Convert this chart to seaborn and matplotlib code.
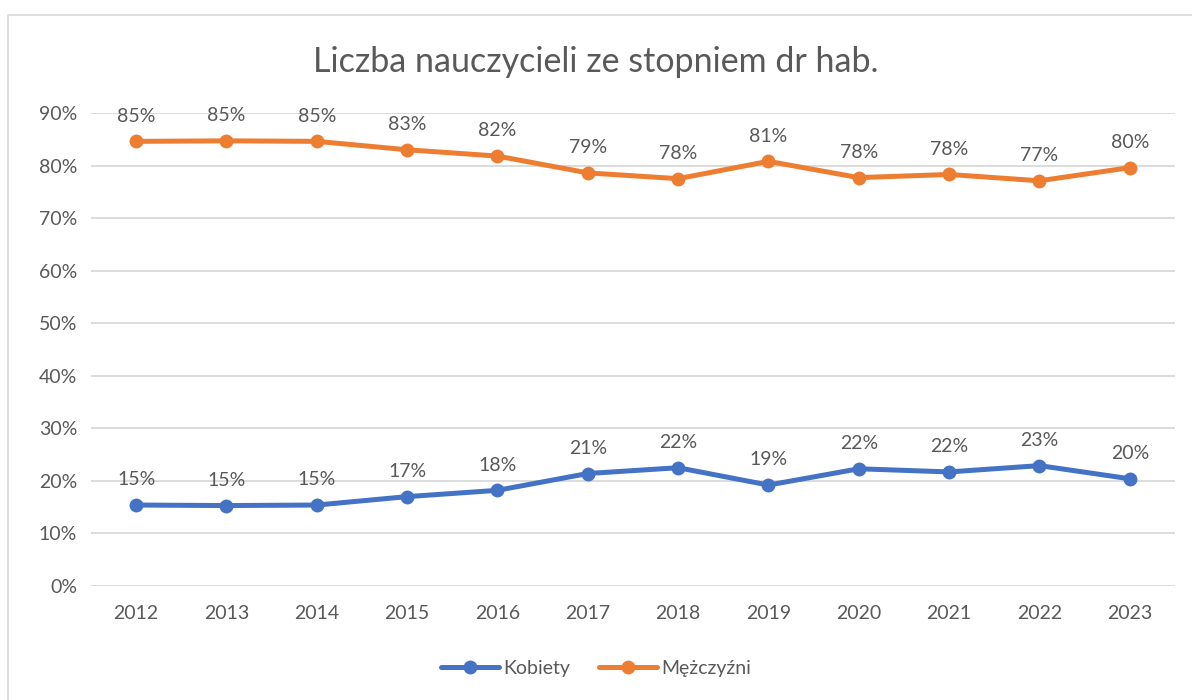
import matplotlib.pyplot as plt
import matplotlib.patches as mpatches
import seaborn as sns
import pandas as pd
from matplotlib.ticker import PercentFormatter

# dane
years = [2012, 2013, 2014, 2015, 2016, 2017, 2018, 2019, 2020, 2021, 2022, 2023]
kobiety = [15.4, 15.3, 15.4, 17.0, 18.2, 21.4, 22.5, 19.2, 22.3, 21.7, 22.9, 20.4]
mezczyzni = [84.6, 84.7, 84.6, 83.0, 81.8, 78.6, 77.5, 80.8, 77.7, 78.3, 77.1, 79.6]
title = "Liczba nauczycieli ze stopniem dr hab."

df = pd.DataFrame({
    "rok": [str(y) for y in years] * 2,
    "udzial": kobiety + mezczyzni,
    "plec": ["Kobiety"] * len(years) + ["Mężczyźni"] * len(years),
})

sns.set_theme(style="white")
plt.rcParams["font.family"] = ["Lato", "DejaVu Sans"]
text_color = "#595959"
palette = {"Kobiety": "#4472C4", "Mężczyźni": "#ED7D31"}

fig = plt.figure(figsize=(11.92, 7), dpi=100)
ax = fig.add_axes([0.0763, 0.1629, 0.9094, 0.6757])

# ramka wykresu
fig.patches.append(mpatches.Rectangle((8 / 1192, -0.1), 1.2, 1 - 15 / 700 + 0.1,
                                      transform=fig.transFigure, fill=False,
                                      edgecolor="#D9D9D9", linewidth=1.2))

sns.lineplot(data=df, x="rok", y="udzial", hue="plec", palette=palette,
             marker="o", markersize=10, markeredgewidth=0, linewidth=3.6,
             sort=False, ax=ax)

# etykiety danych
for _, r in df.iterrows():
    ax.annotate(f"{r['udzial']:.0f}%", (r["rok"], r["udzial"]),
                xytext=(0, 12), textcoords="offset points",
                ha="center", va="bottom", fontsize=14, color=text_color)

ax.set_xlim(-0.5, len(years) - 0.5)
ax.set_ylim(0, 90)
ax.set_yticks(range(0, 91, 10))
ax.yaxis.set_major_formatter(PercentFormatter(decimals=0))
ax.grid(axis="y", color="#D9D9D9", linewidth=1.3)
ax.set_axisbelow(True)
for s in ax.spines.values():
    s.set_visible(False)
ax.tick_params(axis="both", length=0, labelsize=14, labelcolor=text_color)
ax.tick_params(axis="x", pad=14)
ax.tick_params(axis="y", pad=10)
ax.set_xlabel("")
ax.set_ylabel("")

fig.text(0.5, 0.911, title, ha="center", va="center", fontsize=24.5, color=text_color)

handles, labels = ax.get_legend_handles_labels()
ax.legend(handles, labels, loc="center", bbox_to_anchor=(0.5, 0.045),
          bbox_transform=fig.transFigure, ncol=2, frameon=False, fontsize=14,
          labelcolor=text_color, handlelength=3, handletextpad=0.2, columnspacing=1.5)

fig.savefig("out.png", dpi=100)
